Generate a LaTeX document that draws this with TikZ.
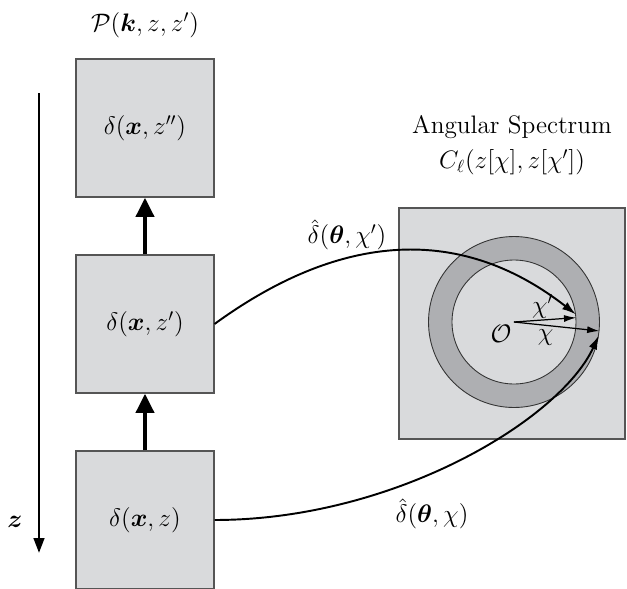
\documentclass[tikz,border=0pt]{standalone}
\usepackage{xcolor}
\usepackage{tikz}
\usetikzlibrary{arrows.meta,positioning,calc}
\usepackage{amsmath}
\usepackage{amssymb}
\definecolor{boxgray}{HTML}{D9DADC}
\definecolor{ringgray}{HTML}{AEAFB2}
\definecolor{edgegray}{HTML}{555555}
\begin{document}
\begin{tikzpicture}[
    x=0.02cm, y=-0.02cm,
    slab/.style={draw=edgegray, fill=boxgray, line width=0.6pt,
                 minimum width=2.76cm, minimum height=2.76cm,
                 inner sep=0pt, align=center},
    sky/.style={draw=edgegray, fill=boxgray, line width=0.6pt,
                minimum width=4.52cm, minimum height=4.62cm, inner sep=0pt},
    ring/.style={circle, draw=black!80, line width=0.5pt, inner sep=0pt},
    thickarrow/.style={-{Triangle[length=11pt,width=10pt]}, line width=2.8pt},
    zarrow/.style={-{Triangle[length=8.5pt,width=6pt]}, line width=1.5pt},
    curve/.style={-{Latex[length=8pt,width=5pt]}, line width=1.1pt},
    radius/.style={-{Latex[length=7pt,width=4pt]}, line width=0.7pt},
    every node/.style={font=\Large},
  ]
  \useasboundingbox (0,0) rectangle (627,589);

  % ── Left column: density slabs ──
  \node[slab] at (145, 128) (top) {$\delta(\boldsymbol{x},z'')$};
  \node[slab] at (145, 324) (mid) {$\delta(\boldsymbol{x},z')$};
  \node[slab] at (145, 520) (bot) {$\delta(\boldsymbol{x},z)$};
  \node at (145, 25) (pk) {$\mathcal{P}(\boldsymbol{k},z,z')$};

  % ── z axis ──
  \coordinate (ztop) at (39, 93);
  \coordinate (zbot) at (39, 553);
  \draw[zarrow] (ztop) -- (zbot);
  \node at (15, 522) (zlab) {$\boldsymbol{z}$};

  % ── Right: sky square with shell ──
  \node[sky] at (512, 323.5) (sq) {};
  \coordinate (O) at (514, 322);
  \node[ring, fill=ringgray, minimum size=3.42cm] at (O) (outer) {};
  \node[ring, fill=boxgray, minimum size=2.48cm] at (O) (inner) {};
  \fill (O) circle[radius=2pt];
  \node at (501, 334) (olab) {$\mathcal{O}$};

  \node at (512, 127) (as) {Angular Spectrum};
  \node at (512, 162) (cl) {$C_\ell(z[\chi],z[\chi'])$};

  % ── Arrows ──
  % slabs upward
  \draw[thickarrow] (mid.north) -- (top.south);
  \draw[thickarrow] (bot.north) -- (mid.south);

  % radii
  \draw[radius] (O) -- node[above, pos=0.46, yshift=-3pt] {$\chi'$} (inner.4);
  \draw[radius] (O) -- node[below, pos=0.37, yshift=1pt] {$\chi$} (outer.-6);

  % projections onto the sky
  \draw[curve] (mid.east) .. controls (334, 237) and (455, 220) .. (inner.7);
  \node at (347, 235) (dchip) {$\hat{\delta}(\boldsymbol{\theta},\chi')$};

  \draw[curve] (bot.east) .. controls (394, 520) and (560, 420) .. (outer.-9);
  \node at (432, 514) (dchi) {$\hat{\delta}(\boldsymbol{\theta},\chi)$};

\end{tikzpicture}
\end{document}
